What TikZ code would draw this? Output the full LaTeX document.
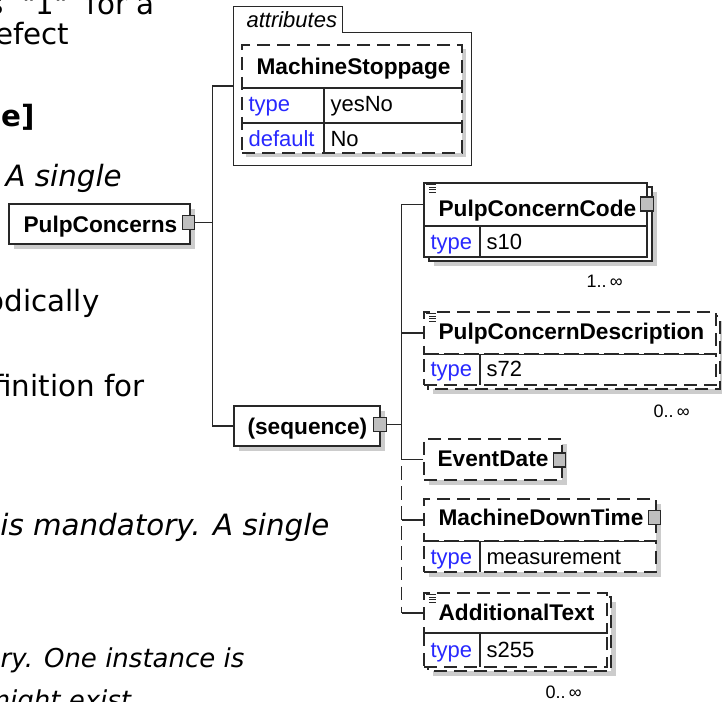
\documentclass[tikz,border=0pt]{standalone}
\usepackage{fontspec}
\usepackage{tikz}
\usetikzlibrary{positioning,fit,calc}
\newfontfamily\diagfont{Liberation Sans}
\newfontfamily\docfont{DejaVu Sans}
\definecolor{typeblue}{RGB}{40,40,255}
\definecolor{linegray}{RGB}{40,40,40}
\newcommand{\elfont}{\diagfont\bfseries\fontsize{17}{20}\selectfont}
\newcommand{\valfont}{\diagfont\fontsize{16.5}{20}\selectfont}
\newcommand{\occfont}{\diagfont\fontsize{13.5}{15}\selectfont}
\newcommand{\bodyfont}{\docfont\fontsize{22}{26}\selectfont}
\newcommand{\smallbody}{\docfont\itshape\fontsize{19.5}{23}\selectfont}

\begin{document}
\begin{tikzpicture}[x=0.75pt, y=-0.75pt, line width=0.85pt,
  box/.style={draw=linegray, fill=white, inner sep=0pt},
  optbox/.style={box, dash pattern=on 10pt off 5pt},
  stackbox/.style={draw=linegray, fill=white},
  dropsh/.style={fill=black!20},
  expand/.style={draw=linegray, fill=black!25, inner sep=0pt, minimum width=9.5pt, minimum height=10.5pt},
  ename/.style={font=\elfont, anchor=base west, inner sep=0pt},
  kw/.style={font=\valfont, text=typeblue, anchor=base west, inner sep=0pt},
  val/.style={font=\valfont, anchor=base west, inner sep=0pt},
  occ/.style={font=\occfont, anchor=base west, inner sep=0pt},
  body/.style={font=\bodyfont, inner sep=0pt},
  link/.style={draw=linegray},
  icon/.style={draw=linegray, line width=0.5pt}]
\useasboundingbox (0,0) rectangle (722,702);
\clip (0,0) rectangle (722,702);

\node[body, anchor=base east] (t1) at (155,15) {s \ "1" \ for a};
\node[body, anchor=base east] (t2) at (70,45) {efect};
\node[body, font=\bodyfont\bfseries, anchor=base east] (t3) at (35,127) {ce]};
\node[body, font=\bodyfont\itshape, anchor=base west] (t4) at (5,187) {A single};
\node[body, anchor=base east] (t5) at (100,312) {odically};
\node[body, anchor=base east] (t6) at (145,397) {finition for};
\node[body, font=\bodyfont\itshape, anchor=base east] (t7) at (330,536) {is mandatory. A single};
\node[body, font=\smallbody, anchor=base east] (t8) at (245,667) {ry. One instance is};
\node[body, font=\smallbody, anchor=base east] (t9) at (140,709) {might exist.};

\fill[dropsh] (14,209) rectangle (195,249);
\node[box, fit={(9,204) (190,244)}] (pc) {};
\node[ename] (pcL) at (23,233) {PulpConcerns};
\node[expand] (pcX) at (188.5,222.5) {};

\node[fit={(234,7) (471,165)}, inner sep=0pt] (attr) {};
\draw[link] (attr.north west) -- ++(109,0) -- ++(0,26) -| (attr.south east) -- (attr.south west) -- cycle;
\node[font=\valfont\itshape, anchor=base west, inner sep=0pt] (attrL) at (246,28) {attributes};
\fill[dropsh] (246,49) rectangle (466,157);
\node[optbox, fit={(242,45) (462,153)}] (ms) {};
\draw[link] (242,88) -- (462,88) (242,123) -- (462,123) (324,88) -- (324,153);
\node[ename] (msL) at (256,75) {MachineStoppage};
\node[kw] (msK1) at (248,112) {type};
\node[val] (msV1) at (330,112) {yesNo};
\node[kw] (msK2) at (248,147) {default};
\node[val] (msV2) at (330,147) {No};

\fill[dropsh] (239,411) rectangle (385,451);
\node[box, fit={(234,406) (380,446)}] (seq) {};
\node[ename] (seqL) at (247,435) {(sequence)};
\node[expand] (seqX) at (380,424.5) {};

\path (pcX.east) ++(17,0) coordinate (pcJ);
\draw[link] (pcX.east) -- (pcJ) (attr.west) -| (pcJ) |- (seq.west);

\fill[dropsh] (434,192) rectangle (657,266);
\draw[stackbox] (429,187) rectangle (652,261);
\node[box, fit={(424,183) (647,226)}] (codeH) {};
\node[box, fit={(424,226) (647,257)}] (codeR) {};
\draw[link] (480,226) -- (480,257);
\node[ename] (codeL) at (438,217) {PulpConcernCode};
\node[kw] (codeK) at (430,250) {type};
\node[val] (codeV) at (486,250) {s10};
\node[expand] (codeX) at (647,204) {};
\node[occ] (codeM) at (586,288) {1..\kern2.5pt∞};

\fill[dropsh] (433,321) rectangle (725,394);
\draw[stackbox, dash pattern=on 10pt off 5pt] (428,316) rectangle (720,389);
\node[optbox, fit={(424,312) (716,354)}] (descH) {};
\node[optbox, fit={(424,354) (716,385)}] (descR) {};
\draw[link] (descH.south west) -- (descH.south east) (480,354) -- (480,385);
\node[ename] (descL) at (438,340) {PulpConcernDescription};
\node[kw] (descK) at (430,377) {type};
\node[val] (descV) at (486,377) {s72};
\node[occ] (descM) at (653,418) {0..\kern2.5pt∞};

\fill[dropsh] (429,444) rectangle (567,485);
\node[optbox, fit={(424,439) (562,480)}] (evH) {};
\node[ename] (evL) at (437,467) {EventDate};
\node[expand] (evX) at (559.5,460) {};

\fill[dropsh] (429,504) rectangle (661,577);
\node[optbox, fit={(424,499) (656,541)}] (mdtH) {};
\node[optbox, fit={(424,541) (656,572)}] (mdtR) {};
\draw[link] (mdtH.south west) -- (mdtH.south east) (480,541) -- (480,572);
\node[ename] (mdtL) at (438,526) {MachineDownTime};
\node[kw] (mdtK) at (430,565) {type};
\node[val] (mdtV) at (486,565) {measurement};
\node[expand] (mdtX) at (654.5,517.5) {};

\fill[dropsh] (433,602) rectangle (616,676);
\draw[stackbox, dash pattern=on 10pt off 5pt] (428,597) rectangle (611,671);
\node[optbox, fit={(424,593) (607,633)}] (addH) {};
\node[optbox, fit={(424,633) (607,667)}] (addR) {};
\draw[link] (addH.south west) -- (addH.south east) (480,633) -- (480,667);
\node[ename] (addL) at (438,620) {AdditionalText};
\node[kw] (addK) at (430,657) {type};
\node[val] (addV) at (486,657) {s255};
\node[occ] (addM) at (545,698) {0..\kern2.5pt∞};

\foreach \n in {codeH,descH,addH}
  \draw[icon] (\n.north west) ++(3,2) -- ++(10,0) ++(-7,2.5) -- ++(7,0) ++(-7,2.5) -- ++(7,0) ++(-7,2.5) -- ++(7,0);

\path (seqX.east) ++(15,0) coordinate (seqJ);
\path (seqJ) ++(0,22) coordinate (seqD);
\draw[link] (seqX.east) -- (seqJ) (codeH.west) -| (seqD);
\draw[link] (seqJ |- descH.west) -- (descH.west) (seqJ |- evH.west) -- (evH.west) (seqJ |- mdtH.west) -- (mdtH.west) (seqJ |- addH.west) -- (addH.west);
\draw[link, dash pattern=on 10pt off 5pt] (seqD) -- (seqJ |- addH.west);
\end{tikzpicture}
\end{document}
